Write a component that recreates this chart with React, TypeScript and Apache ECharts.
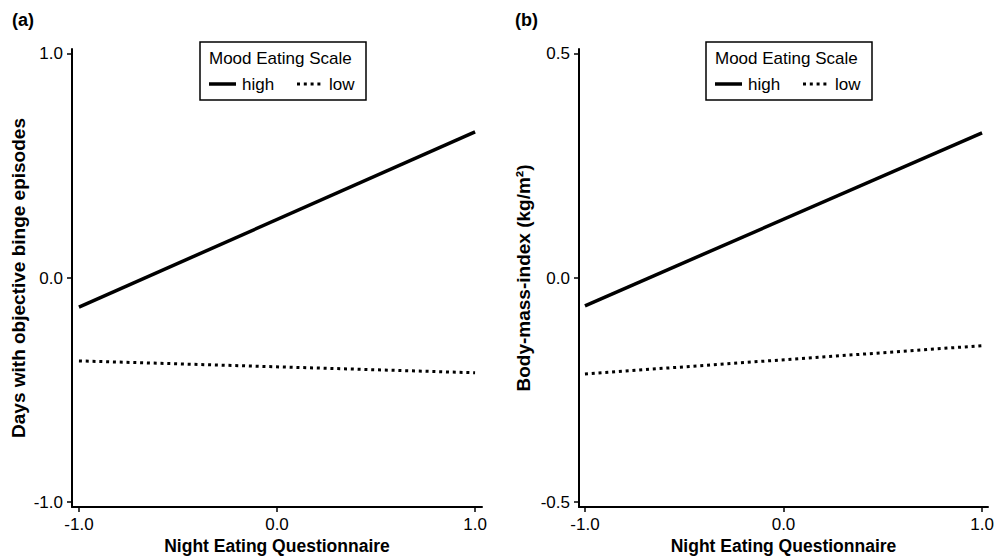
import React, { useEffect, useRef } from "react";
import * as echarts from "echarts";

const xTicks = [-1, 0, 1];
const yTicksA = [-1, 0, 1];
const yTicksB = [-0.5, 0, 0.5];
const xEnds = [-1, 1];
const highA = [-0.13, 0.652];
const lowA = [-0.37, -0.423];
const highB = [-0.062, 0.324];
const lowB = [-0.214, -0.151];
const seriesNames = ["high", "low"];
const legendTitle = "Mood Eating Scale";
const panelLabels = ["(a)", "(b)"];
const xTitle = "Night Eating Questionnaire";
const yTitles = ["Days with objective binge episodes", "Body-mass-index (kg/m²)"];

const FONT = "Liberation Sans, Arial, sans-serif";

function pts(vals: number[]) {
  return xEnds.map((x, i) => [x, vals[i]]);
}

export default function App() {
  const ref = useRef<HTMLDivElement>(null);
  useEffect(() => {
    if (!ref.current) return;
    const chart = echarts.init(ref.current, undefined, { renderer: "svg" });
    const fmt = (v: number) => v.toFixed(1);
    const xAxisBase = (gi: number, ext: number) => ({
      type: "value",
      gridIndex: gi,
      min: -ext,
      max: ext,
      splitLine: { show: false },
      axisLine: { show: true, onZero: false, lineStyle: { color: "#000", width: 2 } },
      axisTick: { show: true, customValues: xTicks, length: 5, lineStyle: { color: "#000", width: 1.5 } },
      axisLabel: { customValues: xTicks, formatter: fmt, color: "#000", fontSize: 17, fontFamily: FONT, margin: 9 },
      name: xTitle,
      nameLocation: "middle",
      nameGap: 30,
      nameMoveOverlap: false,
      nameTextStyle: { color: "#000", fontSize: 17.5, fontWeight: "bold", fontFamily: FONT },
    });
    const yAxisBase = (gi: number, ext: number, ticks: number[], name: string, gap: number) => ({
      type: "value",
      gridIndex: gi,
      min: -ext,
      max: ext,
      splitLine: { show: false },
      axisLine: { show: true, onZero: false, lineStyle: { color: "#000", width: 2 } },
      axisTick: { show: true, customValues: ticks, length: 5, lineStyle: { color: "#000", width: 1.5 } },
      axisLabel: { customValues: ticks, formatter: fmt, color: "#000", fontSize: 17, fontFamily: FONT, margin: 9 },
      name,
      nameLocation: "middle",
      nameGap: gap,
      nameMoveOverlap: false,
      nameTextStyle: { color: "#000", fontSize: 19, fontWeight: "bold", fontFamily: FONT },
    });
    const solid = { color: "#000", width: 3.5, type: "solid" as const };
    const dotted = { color: "#000", width: 3, type: [3, 3.8], cap: "butt" as const };
    const legendGraphics = (x: number) => [
      {
        type: "rect",
        shape: { x, y: 42, width: 166, height: 58 },
        style: { fill: "none", stroke: "#000", lineWidth: 1.5 },
      },
      {
        type: "text",
        x: x + 9,
        y: 50,
        style: { text: legendTitle, fill: "#000", fontSize: 17, fontFamily: FONT },
      },
      {
        type: "line",
        shape: { x1: x + 9, y1: 84, x2: x + 36, y2: 84 },
        style: { stroke: "#000", lineWidth: 3.5 },
      },
      {
        type: "text",
        x: x + 42,
        y: 84,
        style: { text: seriesNames[0], fill: "#000", fontSize: 17, fontFamily: FONT, verticalAlign: "middle" },
      },
      {
        type: "line",
        shape: { x1: x + 97, y1: 84, x2: x + 123, y2: 84 },
        style: { stroke: "#000", lineWidth: 3, lineDash: [3, 3.8] },
      },
      {
        type: "text",
        x: x + 129,
        y: 84,
        style: { text: seriesNames[1], fill: "#000", fontSize: 17, fontFamily: FONT, verticalAlign: "middle" },
      },
    ];
    chart.setOption({
      animation: false,
      backgroundColor: "#fff",
      grid: [
        { left: 72, top: 49, width: 410, height: 458, outerBoundsMode: "none", containLabel: false },
        { left: 579, top: 49, width: 409, height: 458, outerBoundsMode: "none", containLabel: false },
      ],
      xAxis: [xAxisBase(0, 1.035), xAxisBase(1, 1.03)],
      yAxis: [
        yAxisBase(0, 1.0223, yTicksA, yTitles[0], 44),
        yAxisBase(1, 0.5111, yTicksB, yTitles[1], 46),
      ],
      graphic: [
        ...legendGraphics(200),
        ...legendGraphics(706),
        { type: "text", x: 12, y: 11, style: { text: panelLabels[0], fill: "#000", fontSize: 18, fontWeight: "bold", fontFamily: FONT } },
        { type: "text", x: 515, y: 11, style: { text: panelLabels[1], fill: "#000", fontSize: 18, fontWeight: "bold", fontFamily: FONT } },
      ],
      series: [
        { name: seriesNames[0], type: "line", xAxisIndex: 0, yAxisIndex: 0, data: pts(highA), symbol: "none", lineStyle: solid, itemStyle: { color: "#000" } },
        { name: seriesNames[1], type: "line", xAxisIndex: 0, yAxisIndex: 0, data: pts(lowA), symbol: "none", lineStyle: dotted, itemStyle: { color: "#000" } },
        { name: seriesNames[0], type: "line", xAxisIndex: 1, yAxisIndex: 1, data: pts(highB), symbol: "none", lineStyle: solid, itemStyle: { color: "#000" } },
        { name: seriesNames[1], type: "line", xAxisIndex: 1, yAxisIndex: 1, data: pts(lowB), symbol: "none", lineStyle: dotted, itemStyle: { color: "#000" } },
      ],
    });
    return () => chart.dispose();
  }, []);
  return (
    <div
      ref={ref}
      style={{ position: "absolute", left: 0, top: 0, width: 994, height: 556, background: "#fff" }}
    />
  );
}
